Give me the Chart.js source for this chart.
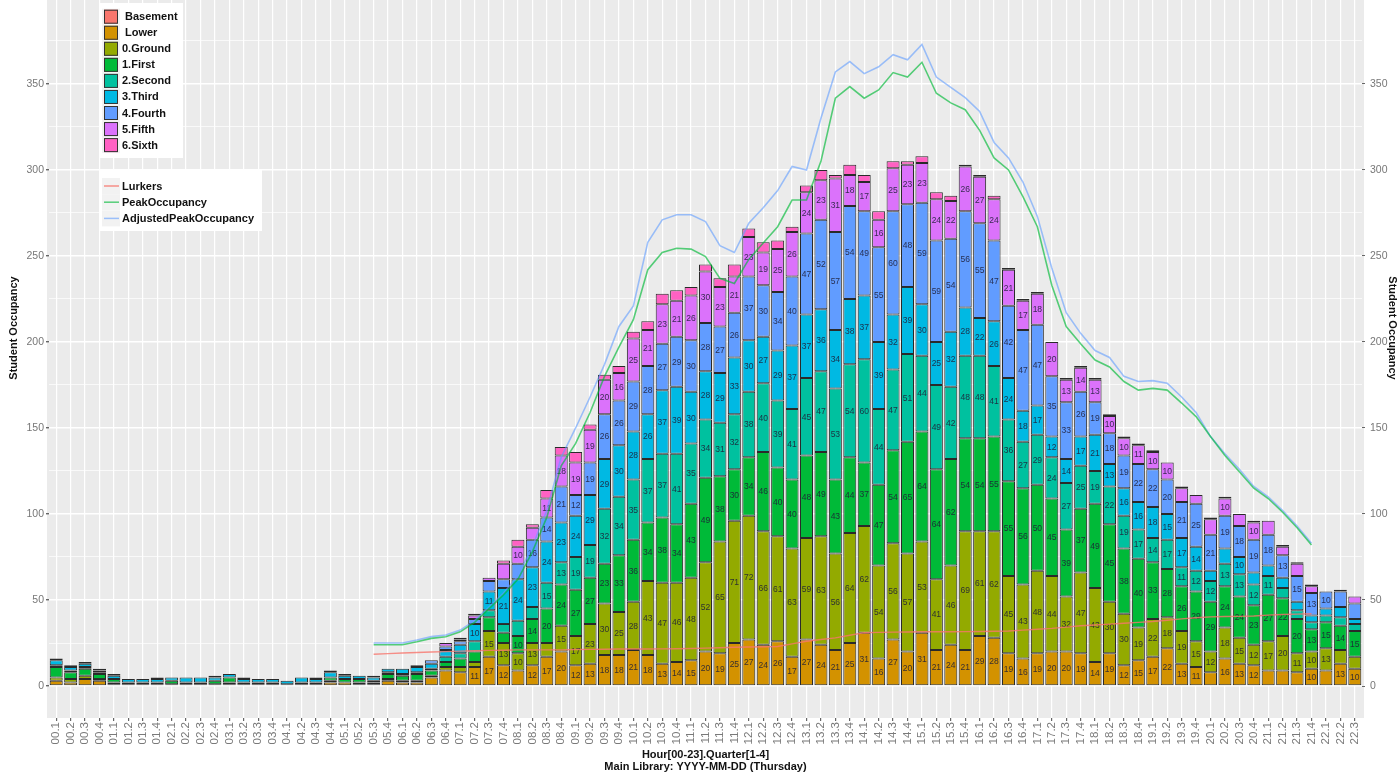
<!DOCTYPE html>
<html>
<head>
<meta charset="utf-8">
<script src="https://cdn.jsdelivr.net/npm/chart.js@4.4.1/dist/chart.umd.min.js"></script>
<style>
  html, body { margin: 0; padding: 0; background: #fff; }
  #c { display: block; }
</style>
</head>
<body>
<canvas id="c" width="1400" height="774"></canvas>
<script>
// categories: hour.quarter
const quarters = [
  '00.1','00.2','00.3','00.4','01.1','01.2','01.3','01.4','02.1','02.2','02.3','02.4',
  '03.1','03.2','03.3','03.4','04.1','04.2','04.3','04.4','05.1','05.2','05.3','05.4',
  '06.1','06.2','06.3','06.4','07.1','07.2','07.3','07.4','08.1','08.2','08.3','08.4',
  '09.1','09.2','09.3','09.4','10.1','10.2','10.3','10.4','11.1','11.2','11.3','11.4',
  '12.1','12.2','12.3','12.4','13.1','13.2','13.3','13.4','14.1','14.2','14.3','14.4',
  '15.1','15.2','15.3','15.4','16.1','16.2','16.3','16.4','17.1','17.2','17.3','17.4',
  '18.1','18.2','18.3','18.4','19.1','19.2','19.3','19.4','20.1','20.2','20.3','20.4',
  '21.1','21.2','21.3','21.4','22.1','22.2','22.3'
];

// students per floor
const basement = [
  0,0,0,0,0,0,0,0,0,0, 0,0,0,0,0,0,0,0,0,0, 0,0,0,0,0,0,0,0,0,0,
  0,0,0,0,0,0,0,0,0,0, 0,0,0,0,0,0,0,0,0,0, 0,0,0,0,0,0,0,0,0,0,
  0,0,0,0,0,0,0,0,0,0, 0,0,0,0,0,0,0,0,0,0, 0,0,0,0,0,0,0,0,0,0, 0
];
const lower = [
  3,2,4,3,1,1,1,1,1,0, 1,1,1,1,1,1,0,1,1,2, 2,1,1,3,2,2,5,9,8,11,
  17,12,9,12,17,20,12,13,18,18, 21,18,13,14,15,20,19,25,27,24, 26,17,27,24,21,25,31,16,27,20,
  31,21,24,21,29,28,19,16,19,20, 20,19,14,19,12,15,17,22,13,11, 8,16,13,12,9,9,8,10,9,13, 10
];
const ground = [
  2,2,2,1,1,0,0,0,0,1, 0,0,1,0,0,0,0,0,0,1, 0,1,1,1,1,1,1,2,3,3,
  15,13,10,13,8,15,17,23,30,25, 28,43,47,46,48,52,65,71,72,66, 61,63,59,63,56,64,62,54,56,57,
  53,41,46,69,61,62,45,43,48,44, 32,47,43,30,30,19,22,18,19,15, 12,18,15,12,17,20,11,10,13,8, 7
];
const first = [
  6,4,4,3,2,1,1,1,2,1, 1,2,3,1,1,1,1,1,1,2, 2,2,1,3,3,4,3,3,5,6,
  8,6,10,14,20,24,27,27,23,33, 36,34,38,34,43,49,38,30,34,46, 40,40,48,49,43,44,37,47,54,65,
  64,64,62,54,54,55,55,56,50,45, 39,37,49,45,38,40,33,28,26,29, 29,24,24,23,27,22,20,13,15,14, 15
];
const second = [
  1,1,1,1,0,0,0,0,0,0, 0,0,0,0,0,0,0,0,0,0, 0,0,0,1,1,1,1,3,3,6,
  4,5,9,7,15,13,19,19,32,34, 35,37,37,41,35,34,31,32,38,40, 39,41,45,47,53,54,60,44,47,51,
  44,49,42,48,48,41,36,27,29,24, 27,25,19,22,19,17,14,17,11,12, 12,13,13,12,11,6,5,4,4,5, 4
];
const third = [
  3,2,2,1,2,2,2,2,2,3, 3,2,2,2,2,2,2,3,2,3, 2,2,2,2,3,3,3,4,5,10,
  11,21,24,23,24,23,24,29,29,30, 28,26,37,39,30,28,29,33,30,27, 29,37,37,36,34,38,37,39,32,39,
  30,25,32,28,22,26,24,18,17,12, 14,17,21,13,16,16,18,15,17,14, 6,9,10,7,6,6,5,4,4,6, 3
];
const fourth = [
  1,1,1,1,1,0,0,1,0,0, 0,1,0,1,0,0,0,0,1,1, 1,0,1,0,0,1,2,2,2,3,
  6,5,9,16,14,21,12,19,26,26, 29,28,27,29,30,28,27,26,37,30, 34,40,47,52,57,54,49,55,60,48,
  59,59,54,56,55,47,42,47,47,35, 33,26,19,18,19,22,22,20,21,25, 21,19,18,19,18,13,15,13,10,9, 9
];
const fifth = [
  0,0,0,0,0,0,0,0,0,0, 0,0,0,0,0,0,0,0,0,0, 0,0,0,0,0,0,0,2,1,2,
  2,9,10,7,11,18,19,19,20,16, 25,21,23,21,26,30,23,21,23,19, 25,26,24,23,31,18,17,16,25,23,
  23,24,22,26,27,24,21,17,18,20, 13,14,13,10,10,11,10,10,8,5, 9,10,7,10,8,5,7,4,0,1, 4
];
const sixth = [
  0,0,0,0,0,0,0,0,0,0, 0,0,0,0,0,0,0,0,0,0, 0,0,0,0,0,0,0,0,1,1,
  0,2,4,2,5,5,6,3,3,4, 4,5,6,6,5,4,5,7,5,6, 5,3,4,6,2,6,4,5,4,2,
  4,4,3,1,1,2,1,1,1,0, 1,1,1,1,1,1,1,0,1,0, 1,1,0,1,0,1,1,1,0,0, 0
];

// overlay lines (05.3 .. 21.4)
const lurkers = [
  null,null,null,null,null,null,null,null,null,null,null,null,null,null,null,null,null,null,null,null,null,null,
  18.5,18.8,19.2,19.5,19.8,20,20.3,20.5,20.7,20.8,
  21,21,21,21,21.2,21.3,21.4,21.5,21.5,21.5,
  21.6,21.7,21.8,22,22.2,22.5,22.7,22.8,23,24.5,
  26,27,28,29.5,31,31.2,31.3,31.4,31.5,31.5,
  31.5,31.6,31.7,31.8,32,32.5,33,33.5,34.2,35,
  35.5,36,36.5,37,37.5,38.2,39,39.7,40.2,40.4,
  40.5,40.7,41.2,41.6,41.8,42,
  null,null,null
];
const peakOccupancy = [
  null,null,null,null,null,null,null,null,null,null,null,null,null,null,null,null,null,null,null,null,null,null,
  24,24,24,25.7,27.7,28.6,31.5,37,45,53,
  62,78,98,128,141,159,180,197,213,242,
  252,254.5,254,249.6,237,234,248,257.5,267,282.5,
  282.5,305,341.7,348.5,341.7,346.5,356.6,354,362.6,344.6,
  339,335,323,307,300,284.5,267,233,209,199,
  189.5,185.5,177,172,173,172,164.5,156.6,145,134,
  124.5,115,109,101,92,82,
  null,null,null
];
const adjustedPeakOccupancy = [
  null,null,null,null,null,null,null,null,null,null,null,null,null,null,null,null,null,null,null,null,null,null,
  25,25,25,26.7,28.7,29.6,32.5,38,46,54,
  64,81,102,133,150,168,187,209,221,258,
  271,274,274,270,256,252,269,278,288,302,
  300,330,357,363,356,360,367,364,373,354,
  348,342,334,316,307,293,273,243,217,205,
  195,191,180,177,177.5,176,168,159,145,135,
  126,116,110,102,93,83,
  null,null,null
];

// y axis grid / ticks
const yGridValues = [0, 25, 50, 75, 100, 125, 150, 175, 200, 225, 250, 275, 300, 325, 350, 375];
const yMin = -18.6, yMax = 398.8;

const floorNames = ['Basement', 'Lower', '0.Ground', '1.First', '2.Second', '3.Third', '4.Fourth', '5.Fifth', '6.Sixth'];
const floorColors = ['#F8766D', '#D39200', '#93AA00', '#00BA38', '#00C19F', '#00B9E3', '#619CFF', '#DB72FB', '#FF61C3'];
const floorValues = [basement, lower, ground, first, second, third, fourth, fifth, sixth];

const lineNames = ['Lurkers', 'PeakOccupancy', 'AdjustedPeakOccupancy'];
const lineColors = ['rgba(248,118,109,0.8)', 'rgba(0,186,56,0.65)', 'rgba(97,156,255,0.6)'];
const lineValues = [lurkers, peakOccupancy, adjustedPeakOccupancy];

const FONT = '"Liberation Sans", Arial, Helvetica, sans-serif';
Chart.defaults.font.family = FONT;

const datasets = [];
floorValues.forEach((vals, k) => {
  datasets.push({
    type: 'bar',
    label: floorNames[k],
    data: vals,
    backgroundColor: floorColors[k],
    borderColor: '#2a2a2a',
    borderWidth: 1,
    borderSkipped: false,
    barPercentage: 0.9,
    categoryPercentage: 1,
    yAxisID: 'y',
    order: 2
  });
});
lineValues.forEach((vals, k) => {
  datasets.push({
    type: 'line',
    label: lineNames[k],
    data: vals,
    borderColor: lineColors[k],
    borderWidth: k === 0 ? 1.4 : 1.6,
    pointRadius: 0,
    tension: 0,
    fill: false,
    yAxisID: 'y2',
    order: 0
  });
});

// grey panel behind the plot
const panelBg = {
  id: 'panelBg',
  beforeDraw(chart) {
    const { ctx, chartArea: a } = chart;
    ctx.save();
    ctx.fillStyle = '#ffffff';
    ctx.fillRect(0, 0, chart.width, chart.height);
    ctx.fillStyle = '#EBEBEB';
    ctx.fillRect(a.left - 2, a.top, a.right - a.left + 4, a.bottom - a.top);
    ctx.restore();
  }
};

// numbers inside the bar segments
const segLabels = {
  id: 'segLabels',
  afterDatasetDraw(chart, args) {
    const ds = chart.data.datasets[args.index];
    if (ds.type !== 'bar') return;
    const ctx = chart.ctx;
    ctx.save();
    ctx.font = '8.5px ' + FONT;
    ctx.fillStyle = 'rgba(30,30,55,0.88)';
    ctx.textAlign = 'center';
    ctx.textBaseline = 'middle';
    args.meta.data.forEach((bar, i) => {
      const v = ds.data[i];
      if (v >= 10) {
        const p = bar.getProps(['x', 'y', 'base'], true);
        ctx.fillText(String(v), p.x, (p.y + p.base) / 2 + 0.5);
      }
    });
    ctx.restore();
  }
};

// axis titles and the two legend boxes
const decorations = {
  id: 'decorations',
  afterDraw(chart) {
    const ctx = chart.ctx;
    const a = chart.chartArea;
    ctx.save();
    ctx.fillStyle = '#111';
    ctx.font = 'bold 11px ' + FONT;
    ctx.textAlign = 'center';
    ctx.textBaseline = 'middle';
    const cx = (a.left + a.right) / 2;
    ctx.fillText('Hour[00-23].Quarter[1-4]', cx, 755);
    ctx.fillText('Main Library: YYYY-MM-DD (Thursday)', cx, 767);

    ctx.save();
    ctx.translate(14, 328);
    ctx.rotate(-Math.PI / 2);
    ctx.fillText('Student Occupancy', 0, 0);
    ctx.restore();
    ctx.save();
    ctx.translate(1392, 328);
    ctx.rotate(Math.PI / 2);
    ctx.fillText('Student Occupancy', 0, 0);
    ctx.restore();

    // floor legend
    ctx.fillStyle = '#ffffff';
    ctx.fillRect(100, 3, 83, 155);
    ctx.textAlign = 'left';
    floorNames.forEach((name, k) => {
      const yc = 16.7 + k * 16.05;
      ctx.fillStyle = '#f2f2f2';
      ctx.fillRect(102, yc - 8, 18, 16);
      ctx.fillStyle = floorColors[k];
      ctx.fillRect(104, yc - 7, 14, 14);
      ctx.strokeStyle = '#333';
      ctx.lineWidth = 1;
      ctx.strokeRect(104.5, yc - 6.5, 13, 13);
      ctx.fillStyle = '#111';
      ctx.fillText(name, k < 2 ? 125 : 122, yc + 0.5);
    });

    // line legend
    ctx.fillStyle = '#ffffff';
    ctx.fillRect(100, 170, 162, 61);
    lineNames.forEach((name, k) => {
      const yc = 186 + k * 16.2;
      ctx.fillStyle = '#f2f2f2';
      ctx.fillRect(102, yc - 8, 18, 16);
      ctx.strokeStyle = lineColors[k];
      ctx.lineWidth = 1.5;
      ctx.beginPath();
      ctx.moveTo(104, yc);
      ctx.lineTo(119, yc);
      ctx.stroke();
      ctx.fillStyle = '#111';
      ctx.fillText(name, 122, yc + 0.5);
    });
    ctx.restore();
  }
};

function fixedTicks(scale) {
  scale.ticks = yGridValues.map(v => ({ value: v }));
}
function noPad(scale) {
  scale.paddingTop = 0;
  scale.paddingBottom = 0;
  scale.paddingLeft = 0;
  scale.paddingRight = 0;
}
const isMajor = ctx => ctx.tick && ctx.tick.value % 50 === 0;

new Chart(document.getElementById('c'), {
  data: { labels: quarters, datasets: datasets },
  plugins: [panelBg, segLabels, decorations],
  options: {
    responsive: false,
    animation: false,
    devicePixelRatio: 1,
    layout: { padding: 0 },
    plugins: {
      legend: { display: false },
      tooltip: { enabled: false }
    },
    scales: {
      x: {
        stacked: true,
        offset: true,
        border: { display: false },
        grid: {
          offset: false,
          color: '#ffffff',
          lineWidth: 1.2,
          drawTicks: true,
          tickLength: 3,
          tickColor: '#666'
        },
        ticks: {
          autoSkip: false,
          minRotation: 90,
          maxRotation: 90,
          padding: 1,
          color: '#7a7a7a',
          font: { size: 11.5 }
        },
        afterFit(s) { s.height = 56; noPad(s); }
      },
      y: {
        stacked: true,
        position: 'left',
        min: yMin,
        max: yMax,
        border: { display: false },
        afterBuildTicks: fixedTicks,
        grid: {
          color: '#ffffff',
          lineWidth: ctx => (isMajor(ctx) ? 1.4 : 0.7),
          tickLength: 3,
          tickColor: ctx => (isMajor(ctx) ? '#666' : 'rgba(0,0,0,0)')
        },
        ticks: {
          padding: 2,
          color: '#777',
          font: { size: 10.5 },
          callback: v => (v % 50 === 0 ? v : '')
        },
        afterFit(s) { s.width = 49; noPad(s); }
      },
      y2: {
        position: 'right',
        min: yMin,
        max: yMax,
        border: { display: false },
        afterBuildTicks: fixedTicks,
        grid: {
          drawOnChartArea: false,
          tickLength: 3,
          tickColor: ctx => (isMajor(ctx) ? '#666' : 'rgba(0,0,0,0)')
        },
        ticks: {
          padding: 5,
          color: '#777',
          font: { size: 10.5 },
          callback: v => (v % 50 === 0 ? v : '')
        },
        afterFit(s) { s.width = 38; noPad(s); }
      }
    }
  }
});
</script>
</body>
</html>
